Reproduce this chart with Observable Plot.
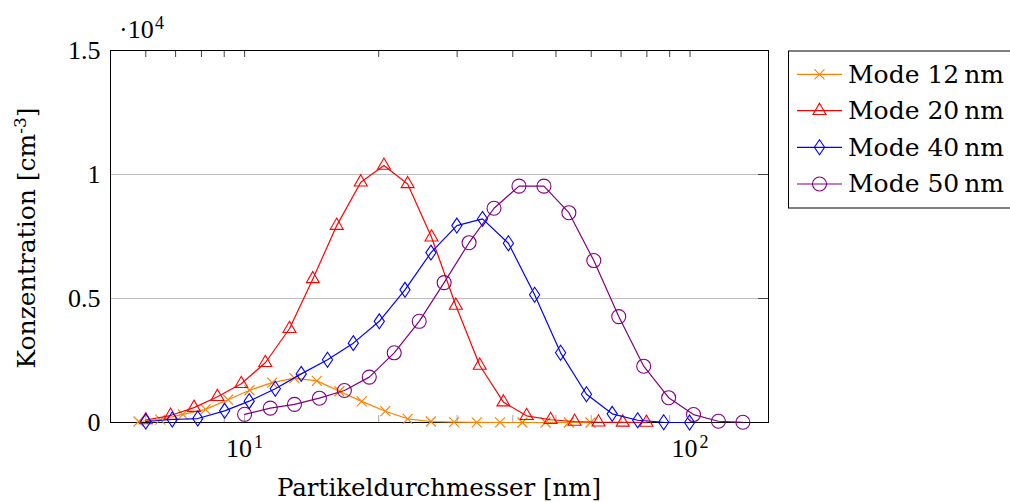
<!DOCTYPE html>
<html><head><meta charset="utf-8">
<script src="https://cdn.jsdelivr.net/npm/d3@7"></script>
<script src="https://cdn.jsdelivr.net/npm/@observablehq/plot@0.6"></script>
<style>html,body{margin:0;padding:0;background:#fff;} #chart{width:1010px;height:502px;overflow:hidden;}</style>
</head><body><div id="chart"></div>
<script>
// ---- data ----
const seriesNames = ["Mode 12\u2009nm", "Mode 20\u2009nm", "Mode 40\u2009nm", "Mode 50\u2009nm"];
const seriesColors = ["#ff8000", "#ff0000", "#0000ff", "#800080"];

const xMode12 = [5.78, 6.47, 7.27, 8.17, 9.18, 10.26, 11.53, 12.94, 14.53, 16.32, 18.32, 20.70, 23.23, 26.19, 29.53, 33.20, 37.44, 42.03, 47.39, 53.45, 59.77];
const yMode12 = [40, 120, 330, 530, 920, 1300, 1610, 1790, 1680, 1260, 850, 455, 150, 40, 12, 4, 1, 0, 0, 0, 0];

const xMode20 = [6.00, 6.82, 7.70, 8.69, 9.83, 11.13, 12.61, 14.23, 16.10, 18.23, 20.55, 23.23, 26.28, 29.80, 33.72, 38.11, 42.97, 48.63, 55.04, 62.29, 70.61, 79.80];
const yMode20 = [100, 280, 600, 1040, 1560, 2410, 3780, 5790, 7940, 9690, 10360, 9620, 7470, 4720, 2300, 820, 270, 110, 40, 10, 5, 0];

const xMode40 = [6.00, 6.88, 7.85, 9.02, 10.24, 11.72, 13.40, 15.35, 17.54, 20.06, 22.91, 26.20, 29.95, 34.20, 39.10, 44.78, 51.21, 58.54, 66.86, 76.29, 87.26, 99.75];
const yMode40 = [40, 120, 160, 470, 860, 1360, 1960, 2530, 3200, 4080, 5350, 6850, 7940, 8210, 7230, 5150, 2810, 1140, 350, 90, 10, 0];

const xMode50 = [10.00, 11.42, 12.94, 14.72, 16.75, 19.05, 21.67, 24.66, 28.05, 31.91, 36.30, 41.30, 46.98, 53.45, 60.80, 69.17, 78.69, 89.52, 101.8, 115.8, 131.4];
const yMode50 = [330, 580, 730, 980, 1290, 1830, 2810, 4080, 5640, 7250, 8640, 9530, 9530, 8460, 6530, 4270, 2270, 1000, 320, 50, 10];

const yTickValues = [0, 5000, 10000, 15000];
const yTickLabels = ["0", "0.5", "1", "1.5"];
const yGridValues = [5000, 10000];
const xTickValues = [10, 100];
const xTickBase = ["10", "10"];
const xTickExp = ["1", "2"];
const xMinorTicks = [6, 7, 8, 9, 10, 20, 30, 40, 50, 60, 70, 80, 90, 100];
const yScaleFactor = ["\u00b710", "4"];
const xLabel = "Partikeldurchmesser [nm]";
const yLabelParts = ["Konzentration [cm", "-3", "]"];

// ---- symbols (pgfplots-like) ----
const symCross = {draw(ctx, size) { const r = Math.sqrt(size / Math.PI); ctx.moveTo(-r, -r); ctx.lineTo(r, r); ctx.moveTo(-r, r); ctx.lineTo(r, -r); }};
const symTriangle = {draw(ctx, size) { const r = Math.sqrt(size / Math.PI); ctx.moveTo(0, -r); ctx.lineTo(r * 0.866, r / 2); ctx.lineTo(-r * 0.866, r / 2); ctx.closePath(); }};
const symDiamond = {draw(ctx, size) { const r = Math.sqrt(size / Math.PI); ctx.moveTo(0, -r); ctx.lineTo(0.68 * r, 0); ctx.lineTo(0, r); ctx.lineTo(-0.68 * r, 0); ctx.closePath(); }};
const symCircle = {draw(ctx, size) { const r = Math.sqrt(size / Math.PI); ctx.moveTo(r, 0); ctx.arc(0, 0, r, 0, 2 * Math.PI); }};
const seriesSymbols = [symCross, symTriangle, symDiamond, symCircle];
const seriesR = [5, 7.5, 7.5, 7];

const seriesX = [xMode12, xMode20, xMode40, xMode50];
const seriesY = [yMode12, yMode20, yMode40, yMode50];
const rows = seriesNames.flatMap((name, s) => seriesX[s].map((x, i) => ({name, x, y: seriesY[s][i]})));

const cmFont = "'Liberation Serif', 'DejaVu Serif', serif";
const labelFont = "'DejaVu Serif', serif";

const tickLenY = 7 / 372 * 15000;
const tickFacX = Math.pow(10, 10 / 446.5);

const seriesMarks = seriesNames.flatMap((name, s) => {
  const data = rows.filter(d => d.name === name);
  return [
    Plot.line(data, {x: "x", y: "y", stroke: seriesColors[s], strokeWidth: 1.2}),
    Plot.dot(data, {x: "x", y: "y", stroke: seriesColors[s], fill: "none", strokeWidth: 1.1, symbol: seriesSymbols[s], r: seriesR[s]})
  ];
});

const plot = Plot.plot({
  width: 1010, height: 502,
  marginLeft: 110, marginRight: 242, marginTop: 50, marginBottom: 80,
  x: {type: "log", domain: [5, 150], axis: null},
  y: {domain: [0, 15000], axis: null},
  style: {background: "white", overflow: "visible"},
  marks: [
    Plot.ruleY(yGridValues, {y: d => d, stroke: "#bdbdbd", strokeWidth: 1}),
    Plot.ruleX(xMinorTicks, {x: d => d, y1: 0, y2: tickLenY, stroke: "#a6a6a6", strokeWidth: 1}),
    Plot.ruleX(xMinorTicks, {x: d => d, y1: 15000 - tickLenY, y2: 15000, stroke: "#444", strokeWidth: 1}),
    Plot.ruleY(yGridValues, {y: d => d, x1: 150 / tickFacX, x2: 150, stroke: "#444", strokeWidth: 1}),
    Plot.frame({stroke: "black", strokeWidth: 1}),
    ...seriesMarks,
    Plot.text(yTickValues, {y: d => d, text: (d, i) => yTickLabels[i], frameAnchor: "left", textAnchor: "end", dx: -10, fontSize: 26, fontFamily: cmFont, fill: "black"})
  ]
});

document.getElementById("chart").appendChild(plot);

const svg = d3.select(plot);
const xs = plot.scale("x"), ys = plot.scale("y");
const y0 = ys.apply(0), yTop = ys.apply(15000);
const xL = xs.apply(5), xR = xs.apply(150);

function txt(parent, x, y, anchor, font, size, str) {
  return parent.append("text").attr("x", x).attr("y", y).attr("text-anchor", anchor)
    .attr("font-family", font).attr("font-size", size).attr("fill", "black").text(str);
}

// x tick labels 10^n
xTickValues.forEach((v, i) => {
  const px = xs.apply(v);
  txt(svg, px + 8, y0 + 35, "end", cmFont, 26, xTickBase[i]);
  txt(svg, px + 10, y0 + 26, "start", cmFont, 18, xTickExp[i]);
});

// scale factor ·10^4
txt(svg, xL + 9, yTop - 12, "start", cmFont, 26, yScaleFactor[0]);
txt(svg, xL + 45, yTop - 21, "start", cmFont, 18, yScaleFactor[1]);

// axis labels
txt(svg, (xL + xR) / 2, y0 + 74, "middle", labelFont, 24.5, xLabel);
const yl = svg.append("text").attr("transform", `translate(35,${(y0 + yTop) / 2 + 2}) rotate(-90)`).attr("text-anchor", "middle")
  .attr("font-family", labelFont).attr("font-size", 25).attr("fill", "black");
yl.append("tspan").text(yLabelParts[0]);
yl.append("tspan").attr("dy", -9).attr("font-size", 17).text(yLabelParts[1]);
yl.append("tspan").attr("dy", 9).text(yLabelParts[2]);

// legend
const lg = svg.append("g");
lg.append("rect").attr("x", 788.5).attr("y", 51).attr("width", 230).attr("height", 157)
  .attr("fill", "white").attr("stroke", "black").attr("stroke-width", 1);
const rowY = [74.3, 110.7, 147.3, 184];
seriesNames.forEach((name, s) => {
  const cy = rowY[s];
  lg.append("line").attr("x1", 797).attr("x2", 842).attr("y1", cy).attr("y2", cy).attr("stroke", seriesColors[s]).attr("stroke-width", 1.2);
  const path = d3.path();
  seriesSymbols[s].draw(path, seriesR[s] * seriesR[s] * Math.PI);
  lg.append("path").attr("d", path.toString()).attr("transform", `translate(819.5,${cy})`).attr("fill", "none").attr("stroke", seriesColors[s]).attr("stroke-width", 1.1);
  txt(lg, 848, cy + 8.4, "start", labelFont, 25, name);
});
</script>
</body></html>
